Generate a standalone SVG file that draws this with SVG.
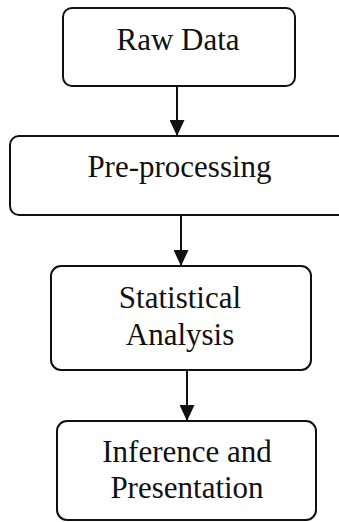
<svg xmlns="http://www.w3.org/2000/svg" width="339" height="522" viewBox="0 0 339 522">
<style>
.box{fill:#fff;stroke:#111;stroke-width:2}
.lbl{font-family:"Liberation Serif","Times New Roman",serif;font-size:31px;fill:#111;text-anchor:middle}
.conn{stroke:#111;stroke-width:2;fill:none}
</style>
<defs>
<marker id="ah" markerUnits="userSpaceOnUse" markerWidth="16" markerHeight="15" refX="16" refY="7.5" orient="auto" viewBox="0 0 16 15">
<path d="M0,0 L16,7.5 L0,15 Z" fill="#111"/>
</marker>
</defs>
<rect width="339" height="522" fill="#fff"/>
<g id="connectors">
<line class="conn" x1="177" y1="86" x2="177" y2="136" marker-end="url(#ah)"/>
<line class="conn" x1="181" y1="215" x2="181" y2="266" marker-end="url(#ah)"/>
<line class="conn" x1="187" y1="370" x2="187" y2="421" marker-end="url(#ah)"/>
</g>
<g id="raw-data">
<rect class="box" x="63" y="8" width="232" height="78" rx="9"/>
<text class="lbl" x="178" y="50">Raw Data</text>
</g>
<g id="pre-processing">
<rect class="box" x="10" y="136" width="345" height="79" rx="9"/>
<text class="lbl" x="179.5" y="177">Pre-processing</text>
</g>
<g id="statistical-analysis">
<rect class="box" x="51" y="266" width="260" height="104" rx="10"/>
<text class="lbl" x="180" y="308">Statistical</text>
<text class="lbl" x="180" y="345">Analysis</text>
</g>
<g id="inference-presentation">
<rect class="box" x="57" y="421" width="259" height="99" rx="10"/>
<text class="lbl" x="187" y="462">Inference and</text>
<text class="lbl" x="187" y="498">Presentation</text>
</g>
</svg>
